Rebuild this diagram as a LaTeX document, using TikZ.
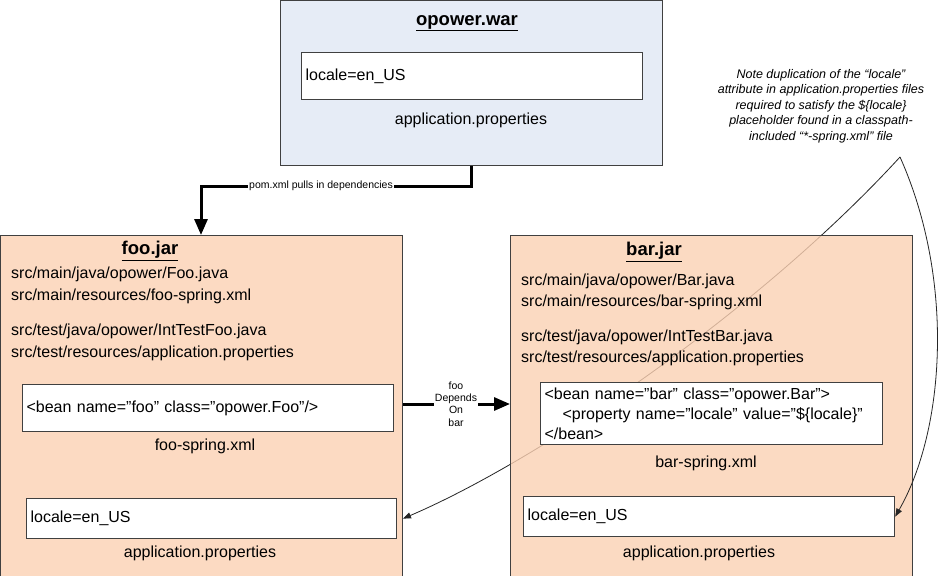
\documentclass[tikz,border=0pt]{standalone}
\usepackage{fontspec}
\setmainfont{Liberation Sans}
\usepackage{xcolor}
\usetikzlibrary{arrows.meta, positioning}

\definecolor{boxline}{RGB}{64,64,64}
\definecolor{warfill}{RGB}{230,236,246}
\definecolor{peach}{RGB}{252,218,194}
\definecolor{barpeach}{RGB}{251,209,179}

\begin{document}
\begin{tikzpicture}[x=1pt, y=-1pt,
    warbox/.style={draw=boxline, line width=1pt, fill=warfill, anchor=north west, minimum width=382pt, minimum height=165pt},
    jarbox/.style={draw=boxline, line width=1pt, fill=peach, anchor=north west, minimum width=402pt, minimum height=342pt},
    propbox/.style={draw=boxline, line width=1.2pt, fill=white, anchor=north west, align=left, inner xsep=4pt, inner ysep=0pt, font=\fontsize{16}{20}\selectfont},
    titletext/.style={font=\fontsize{18.5}{22}\selectfont\bfseries, inner sep=0pt},
    bodytext/.style={font=\fontsize{16}{20}\selectfont, inner sep=0pt, text height=11.5pt, text depth=3.5pt},
    pathtext/.style={bodytext, anchor=west},
    smalltext/.style={font=\fontsize{10.5}{12.3}\selectfont, inner sep=1pt},
    notetext/.style={font=\fontsize{12.5}{15.5}\selectfont\itshape, align=center},
    thickline/.style={line width=3pt},
    thickarrow/.style={line width=3pt, -{Triangle[length=16pt, width=13pt]}},
    notearrow/.style={line width=0.8pt, black!85, -{Triangle[length=8pt, width=6pt]}}]

    % Page
    \fill[white] (0,0) rectangle (938,576);
    \useasboundingbox (0,0) rectangle (938,576);

    % opower.war
    \node[warbox] (war) at (280,0) {};
    \node[titletext] (wartitle) at (467,23) {\underline{opower.war}};
    \node[propbox, minimum height=47pt, text width=333pt] (warprops) at (301,52) {locale=en\_US};
    \node[bodytext] (warpropslbl) at (471,120) {application.properties};

    % foo.jar
    \node[jarbox] (foojar) at (0,235) {};
    \node[titletext] (footitle) at (150,251) {\underline{foo.jar}};
    \node[pathtext] (foosrc1) at (11,274) {src/main/java/opower/Foo.java};
    \node[pathtext] (foosrc2) at (11,296) {src/main/resources/foo-spring.xml};
    \node[pathtext] (foosrc3) at (11,331) {src/test/java/opower/IntTestFoo.java};
    \node[pathtext] (foosrc4) at (11,353) {src/test/resources/application.properties};
    \node[propbox, minimum height=47pt, text width=363pt] (foospring) at (22,384) {<bean name="foo” class="opower.Foo"/>};
    \node[bodytext] (foospringlbl) at (205,446) {foo-spring.xml};
    \node[propbox, minimum height=40pt, text width=362pt] (fooprops) at (26,498) {locale=en\_US};
    \node[bodytext] (foopropslbl) at (200,553) {application.properties};

    % Note
    \node[notetext] (note) at (821,106) {Note duplication of the “locale”\\attribute in application.properties files\\required to satisfy the \$\{locale\}\\placeholder found in a classpath-\\included “*-spring.xml” file};
    \coordinate (notetip) at (900,157);
    \draw[notearrow] (notetip) .. controls (760,310) and (540,460) .. (fooprops.east -| foojar.east);

    % bar.jar (lets the note line show through)
    \node[jarbox, fill=barpeach, fill opacity=0.8] (barjar) at (510,235) {};
    \node[titletext] (bartitle) at (654,252) {\underline{bar.jar}};
    \node[pathtext] (barsrc1) at (521,281) {src/main/java/opower/Bar.java};
    \node[pathtext] (barsrc2) at (521,302) {src/main/resources/bar-spring.xml};
    \node[pathtext] (barsrc3) at (521,337) {src/test/java/opower/IntTestBar.java};
    \node[pathtext] (barsrc4) at (521,358) {src/test/resources/application.properties};
    \node[propbox, minimum height=62pt, text width=334pt] (barspring) at (540,382) {<bean name="bar” class="opower.Bar">\\\hspace*{18pt}<property name="locale" value="\$\{locale\}"\\</bean>};
    \node[bodytext] (barspringlbl) at (706,463) {bar-spring.xml};
    \node[propbox, minimum height=40pt, text width=363pt] (barprops) at (523,496) {locale=en\_US};
    \node[bodytext] (barpropslbl) at (699,553) {application.properties};
    \draw[notearrow] (notetip) .. controls (955,280) and (945,430) .. (barprops.east);

    % Dependencies
    \node[smalltext, fill=white] (pomlbl) at (321,186) {pom.xml pulls in dependencies};
    \draw[thickline] (war.south) |- (pomlbl.east);
    \draw[thickarrow] (pomlbl.west) -| ([xshift=201pt]foojar.north west);

    \node[smalltext, align=center] (deplbl) at (456,404) {foo\\Depends\\On\\bar};
    \draw[thickline] (foojar.east |- deplbl.west) -- (deplbl.west);
    \draw[thickarrow] (deplbl.east) -- (deplbl.east -| barjar.west);
\end{tikzpicture}
\end{document}
